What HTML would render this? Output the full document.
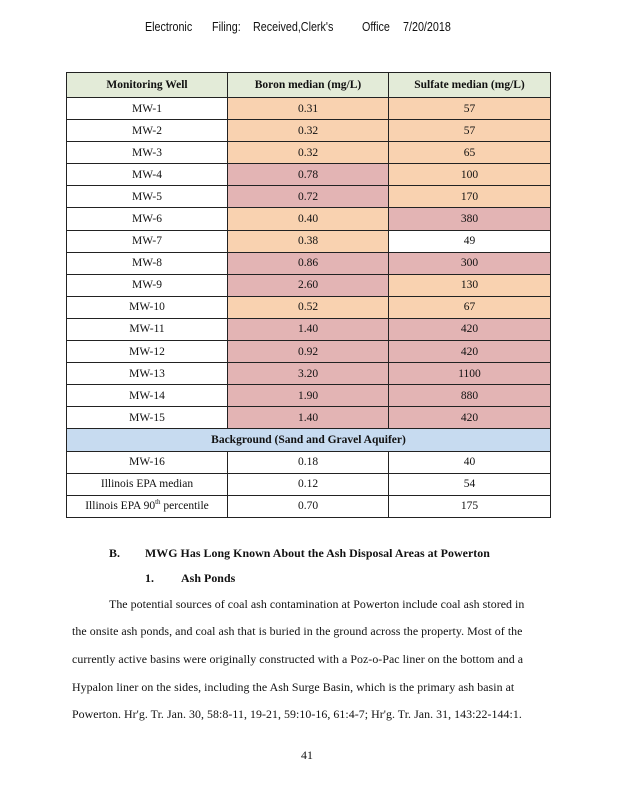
<!DOCTYPE html>
<html><head><meta charset="utf-8"><style>
body{margin:0;width:618px;height:800px;background:#fff;position:relative;overflow:hidden;font-family:"Liberation Serif",serif;color:#111}
.a{position:absolute;white-space:nowrap}
.h{position:absolute;top:20px;font-family:'Liberation Sans',sans-serif;font-size:12.5px;transform:scaleX(0.86);transform-origin:0 0;white-space:nowrap}
table{position:absolute;left:66px;top:72px;border-collapse:collapse;width:485px;font-size:11.5px;table-layout:fixed}
td{border:1px solid #222;height:21.1px;padding:0;text-align:center;line-height:12px}
th{border:1px solid #222;height:22px;background:#e3ebd8;font-size:11.5px}
.o{background:#f9d2b0}.p{background:#e3b4b4}.b{background:#c7dbf0;font-weight:bold}
.l{font-size:11.9px;letter-spacing:.05px}
</style></head><body>
<div class="h" style="left:145px">Electronic</div>
<div class="h" style="left:212px">Filing:</div>
<div class="h" style="left:253px">Received,Clerk's</div>
<div class="h" style="left:362px">Office</div>
<div class="h" style="left:403px">7/20/2018</div>
<table>
<colgroup><col style="width:161px"><col style="width:161px"><col></colgroup>
<tr><th>Monitoring Well</th><th>Boron median (mg/L)</th><th>Sulfate median (mg/L)</th></tr>
<tr><td>MW-1</td><td class="o">0.31</td><td class="o">57</td></tr>
<tr><td>MW-2</td><td class="o">0.32</td><td class="o">57</td></tr>
<tr><td>MW-3</td><td class="o">0.32</td><td class="o">65</td></tr>
<tr><td>MW-4</td><td class="p">0.78</td><td class="o">100</td></tr>
<tr><td>MW-5</td><td class="p">0.72</td><td class="o">170</td></tr>
<tr><td>MW-6</td><td class="o">0.40</td><td class="p">380</td></tr>
<tr><td>MW-7</td><td class="o">0.38</td><td>49</td></tr>
<tr><td>MW-8</td><td class="p">0.86</td><td class="p">300</td></tr>
<tr><td>MW-9</td><td class="p">2.60</td><td class="o">130</td></tr>
<tr><td>MW-10</td><td class="o">0.52</td><td class="o">67</td></tr>
<tr><td>MW-11</td><td class="p">1.40</td><td class="p">420</td></tr>
<tr><td>MW-12</td><td class="p">0.92</td><td class="p">420</td></tr>
<tr><td>MW-13</td><td class="p">3.20</td><td class="p">1100</td></tr>
<tr><td>MW-14</td><td class="p">1.90</td><td class="p">880</td></tr>
<tr><td>MW-15</td><td class="p">1.40</td><td class="p">420</td></tr>
<tr><td colspan="3" class="b">Background (Sand and Gravel Aquifer)</td></tr>
<tr><td>MW-16</td><td>0.18</td><td>40</td></tr>
<tr><td>Illinois EPA median</td><td>0.12</td><td>54</td></tr>
<tr><td>Illinois EPA 90<sup style="font-size:7px;line-height:0">th</sup> percentile</td><td>0.70</td><td>175</td></tr>
</table>
<div class="a l" style="left:109px;top:546px;font-weight:bold">B.</div>
<div class="a l" style="left:145px;top:546px;font-weight:bold">MWG Has Long Known About the Ash Disposal Areas at Powerton</div>
<div class="a l" style="left:145px;top:571px;font-weight:bold">1.</div>
<div class="a l" style="left:181px;top:571px;font-weight:bold">Ash Ponds</div>
<div class="a l" style="left:109px;top:597px">The potential sources of coal ash contamination at Powerton include coal ash stored in</div>
<div class="a l" style="left:72px;top:624px">the onsite ash ponds, and coal ash that is buried in the ground across the property. Most of the</div>
<div class="a l" style="left:72px;top:652px">currently active basins were originally constructed with a Poz-o-Pac liner on the bottom and a</div>
<div class="a l" style="left:72px;top:680px">Hypalon liner on the sides, including the Ash Surge Basin, which is the primary ash basin at</div>
<div class="a l" style="left:72px;top:707px">Powerton. Hr'g. Tr. Jan. 30, 58:8-11, 19-21, 59:10-16, 61:4-7; Hr'g. Tr. Jan. 31, 143:22-144:1.</div>
<div class="a l" style="left:301px;top:748px">41</div>
</body></html>
